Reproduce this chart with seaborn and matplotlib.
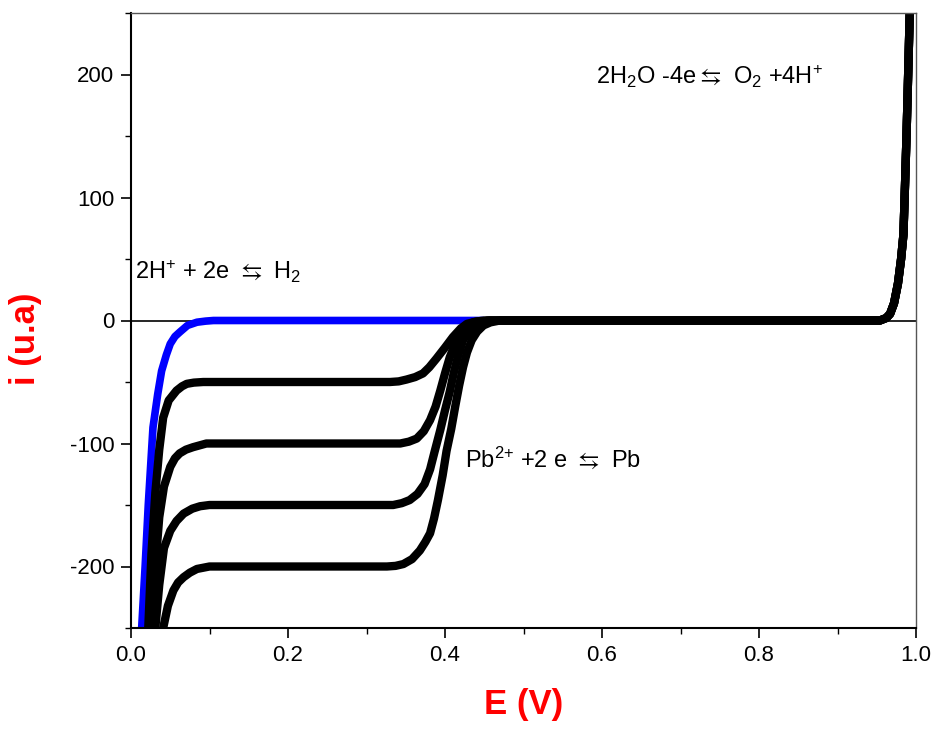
import matplotlib
matplotlib.use('Agg')
import numpy as np
import pandas as pd
import matplotlib.pyplot as plt
import seaborn as sns
from matplotlib.ticker import MultipleLocator

# blue curve: supporting electrolyte only (H2 evolution)
blue_E = [0.0136, 0.018, 0.022, 0.028, 0.034, 0.039, 0.045, 0.050, 0.056, 0.062, 0.072, 0.084, 0.095, 0.105, 0.45]
blue_i = [-250, -200, -150, -87, -60, -41, -28, -19, -13, -9.5, -4, -1.4, -0.5, 0, 0]

# black curves: Pb2+ reduction, four concentrations
pb50_E = [0.022, 0.026, 0.031, 0.036, 0.041, 0.048, 0.058, 0.065, 0.071, 0.08, 0.092, 0.33, 0.341, 0.351, 0.362, 0.372, 0.38, 0.389, 0.40, 0.41, 0.42, 0.428, 0.44, 0.453]
pb50_i = [-250, -190, -140, -105, -79, -65, -57, -53.5, -51.5, -50.5, -50, -50, -49.5, -48, -46, -43, -38, -31, -22, -13.5, -6.5, -2.7, -0.8, 0]

pb100_E = [0.026, 0.031, 0.036, 0.042, 0.05, 0.056, 0.062, 0.07, 0.079, 0.096, 0.343, 0.354, 0.364, 0.373, 0.381, 0.388, 0.394, 0.40, 0.406, 0.413, 0.419, 0.427, 0.436, 0.445, 0.455]
pb100_i = [-250, -200, -160, -135, -119, -112, -108, -105, -103, -100, -100, -98.5, -96, -90, -81, -70, -57, -43, -30, -19, -11, -5, -1.4, -0.4, 0]

pb150_E = [0.031, 0.036, 0.042, 0.05, 0.058, 0.067, 0.078, 0.088, 0.10, 0.334, 0.345, 0.355, 0.365, 0.374, 0.381, 0.387, 0.394, 0.40, 0.406, 0.411, 0.417, 0.423, 0.431, 0.44, 0.448, 0.457]
pb150_i = [-250, -215, -185, -171, -163, -157, -153, -151, -150, -150, -148.5, -146, -141, -133, -121, -106, -89, -73, -58, -43, -28, -16, -8, -3, -1, 0]

pb200_E = [0.041, 0.047, 0.054, 0.06, 0.067, 0.075, 0.084, 0.10, 0.326, 0.337, 0.347, 0.358, 0.368, 0.375, 0.381, 0.386, 0.391, 0.397, 0.402, 0.408, 0.413, 0.418, 0.423, 0.428, 0.434, 0.441, 0.449, 0.458, 0.47, 0.5]
pb200_i = [-250, -232, -219.5, -213, -208.7, -205, -202, -200, -200, -199.5, -198, -194, -187, -180, -173, -161, -146, -126, -106, -88, -70, -53, -38, -26, -16, -9, -4, -1.5, 0, 0]

# common anodic branch (O2 evolution)
ox_E = [0.5, 0.954, 0.962, 0.967, 0.972, 0.977, 0.981, 0.984, 0.986, 0.988, 0.990, 0.992, 0.995]
ox_i = [0, 0, 2, 5.4, 14, 30, 50, 70, 110, 152, 200, 249, 280]

sns.set_theme(style='ticks')
plt.rcParams['font.family'] = ['Liberation Sans', 'DejaVu Sans']
plt.rcParams['text.color'] = 'black'
plt.rcParams['axes.unicode_minus'] = False
plt.rcParams['mathtext.fontset'] = 'custom'
plt.rcParams['mathtext.rm'] = 'Liberation Sans'
plt.rcParams['mathtext.default'] = 'rm'
plt.rcParams['mathtext.fallback'] = 'stixsans'

fig = plt.figure(figsize=(9.34, 7.29), dpi=100)
ax = fig.add_axes([131/934, 1-628/729, 785/934, 615/729])

ax.axhline(0, color='black', lw=1.2, zorder=1)

sns.lineplot(x=blue_E, y=blue_i, sort=False, estimator=None, color='#0000ff', lw=5.5,
             solid_joinstyle='round', solid_capstyle='butt', ax=ax)
for E, i in [(pb50_E, pb50_i), (pb100_E, pb100_i), (pb150_E, pb150_i), (pb200_E, pb200_i)]:
    sns.lineplot(x=E + ox_E, y=i + ox_i, sort=False, estimator=None, color='black', lw=6,
                 solid_joinstyle='round', solid_capstyle='butt', ax=ax)

ax.set_xlim(0, 1.0)
ax.set_ylim(-250, 250)
ax.xaxis.set_major_locator(MultipleLocator(0.2))
ax.xaxis.set_minor_locator(MultipleLocator(0.1))
ax.yaxis.set_major_locator(MultipleLocator(100))
ax.yaxis.set_minor_locator(MultipleLocator(50))
ax.tick_params(which='major', direction='out', length=7, width=1.2, labelsize=16,
               colors='black', pad=5)
ax.tick_params(which='minor', direction='out', length=4, width=1.0, colors='black')

for s in ['left', 'bottom']:
    ax.spines[s].set_linewidth(1.5)
    ax.spines[s].set_color('black')
for s in ['top', 'right']:
    ax.spines[s].set_linewidth(1.0)
    ax.spines[s].set_color('#555555')

ax.set_xlabel('E (V)', color='red', fontsize=25, fontweight='bold')
ax.set_ylabel('i (u.a)', color='red', fontsize=25, fontweight='bold')
ax.xaxis.set_label_coords(0.5, -0.098)
ax.yaxis.set_label_coords(-0.113, 0.47)

ax.text(0.005, 40, r'2H$^{+}$ + 2e $\leftrightarrows$ H$_{2}$', fontsize=17, va='center', ha='left')
ax.text(0.592, 198, r'2H$_{2}$O -4e$\leftrightarrows$ O$_{2}$ +4H$^{+}$', fontsize=17, va='center', ha='left')
ax.text(0.425, -112, r'Pb$^{2{+}}$ +2 e $\leftrightarrows$ Pb', fontsize=17, va='center', ha='left')

fig.savefig('out.png', dpi=100)
